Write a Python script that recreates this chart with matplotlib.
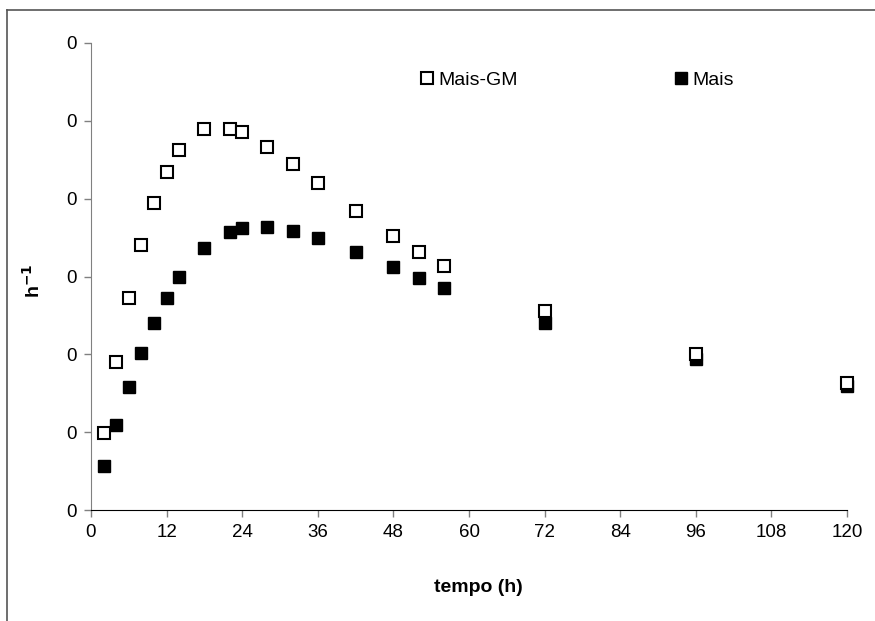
import matplotlib.pyplot as plt
from matplotlib.lines import Line2D
from matplotlib.ticker import FormatStrFormatter

plt.rcParams["font.family"] = ["Liberation Sans", "DejaVu Sans"]

# time (h)
tempo_gm = [2, 4, 6, 8, 10, 12, 14, 18, 22, 24, 28, 32, 36, 42, 48, 52, 56, 72, 96, 120]
# specific rate (h-1), Mais-GM
mais_gm = [0.0099, 0.0190, 0.0272, 0.0340, 0.0394, 0.0434, 0.0462, 0.0489, 0.0490, 0.0485,
           0.0466, 0.0444, 0.0420, 0.0384, 0.0352, 0.0332, 0.0314, 0.0256, 0.0200, 0.0163]

tempo_mais = [2, 4, 6, 8, 10, 12, 14, 18, 22, 24, 28, 32, 36, 42, 48, 52, 56, 72, 96, 120]
mais = [0.0056, 0.0109, 0.0158, 0.0202, 0.0240, 0.0273, 0.0300, 0.0337, 0.0357, 0.0362,
        0.0364, 0.0359, 0.0350, 0.0331, 0.0312, 0.0298, 0.0285, 0.0240, 0.0194, 0.0159]

x_ticks = list(range(0, 121, 12))
y_ticks = [0.0, 0.01, 0.02, 0.03, 0.04, 0.05, 0.06]

fig = plt.figure(figsize=(8.75, 6.21), dpi=100)
ax = fig.add_axes([0.104, 0.1787, 0.864, 0.7521])

ax.plot(tempo_gm, mais_gm, ls="none", marker="s", ms=8.2, mfc="white", mec="black",
        mew=1.5, label="Mais-GM", clip_on=False, zorder=3)
ax.plot(tempo_mais, mais, ls="none", marker="s", ms=8.2, mfc="black", mec="black",
        mew=1.0, label="Mais", clip_on=False, zorder=2)

ax.set_xlim(0, 120)
ax.set_ylim(0, 0.06)
ax.set_xticks(x_ticks)
ax.set_yticks(y_ticks)
ax.yaxis.set_major_formatter(FormatStrFormatter("%.0f"))

for side in ("top", "right"):
    ax.spines[side].set_visible(False)
ax.spines["left"].set_color("#808080")
ax.spines["bottom"].set_color("black")
ax.tick_params(axis="both", direction="out", length=5, width=1, color="#808080",
               labelsize=13.5, pad=5)

ax.set_xlabel("tempo (h)", fontsize=14, fontweight="bold")
ax.xaxis.set_label_coords(0.512, -0.148)
ax.set_ylabel(r"h$^{\mathbf{-1}}$", fontsize=14, fontweight="bold")
ax.yaxis.set_label_coords(-0.062, 0.49)

handles = [
    Line2D([], [], ls="none", marker="s", ms=8.2, mfc="white", mec="black", mew=1.5),
    Line2D([], [], ls="none", marker="s", ms=8.2, mfc="black", mec="black"),
]
ax.legend(handles, ["Mais-GM", "Mais"], ncol=2, frameon=False, fontsize=14,
          handlelength=0.7, handletextpad=0.25, columnspacing=8.05,
          loc="center left", bbox_to_anchor=(410 / 875, 1 - 80 / 621),
          bbox_transform=fig.transFigure, borderpad=0)

# outer frame lines (top and left only)
fig.add_artist(Line2D([7 / 875, 1], [1 - 10 / 621, 1 - 10 / 621], color="#555555", lw=1.2))
fig.add_artist(Line2D([7 / 875, 7 / 875], [0, 1 - 10 / 621], color="#555555", lw=1.2))

fig.savefig("out.png", dpi=100)
